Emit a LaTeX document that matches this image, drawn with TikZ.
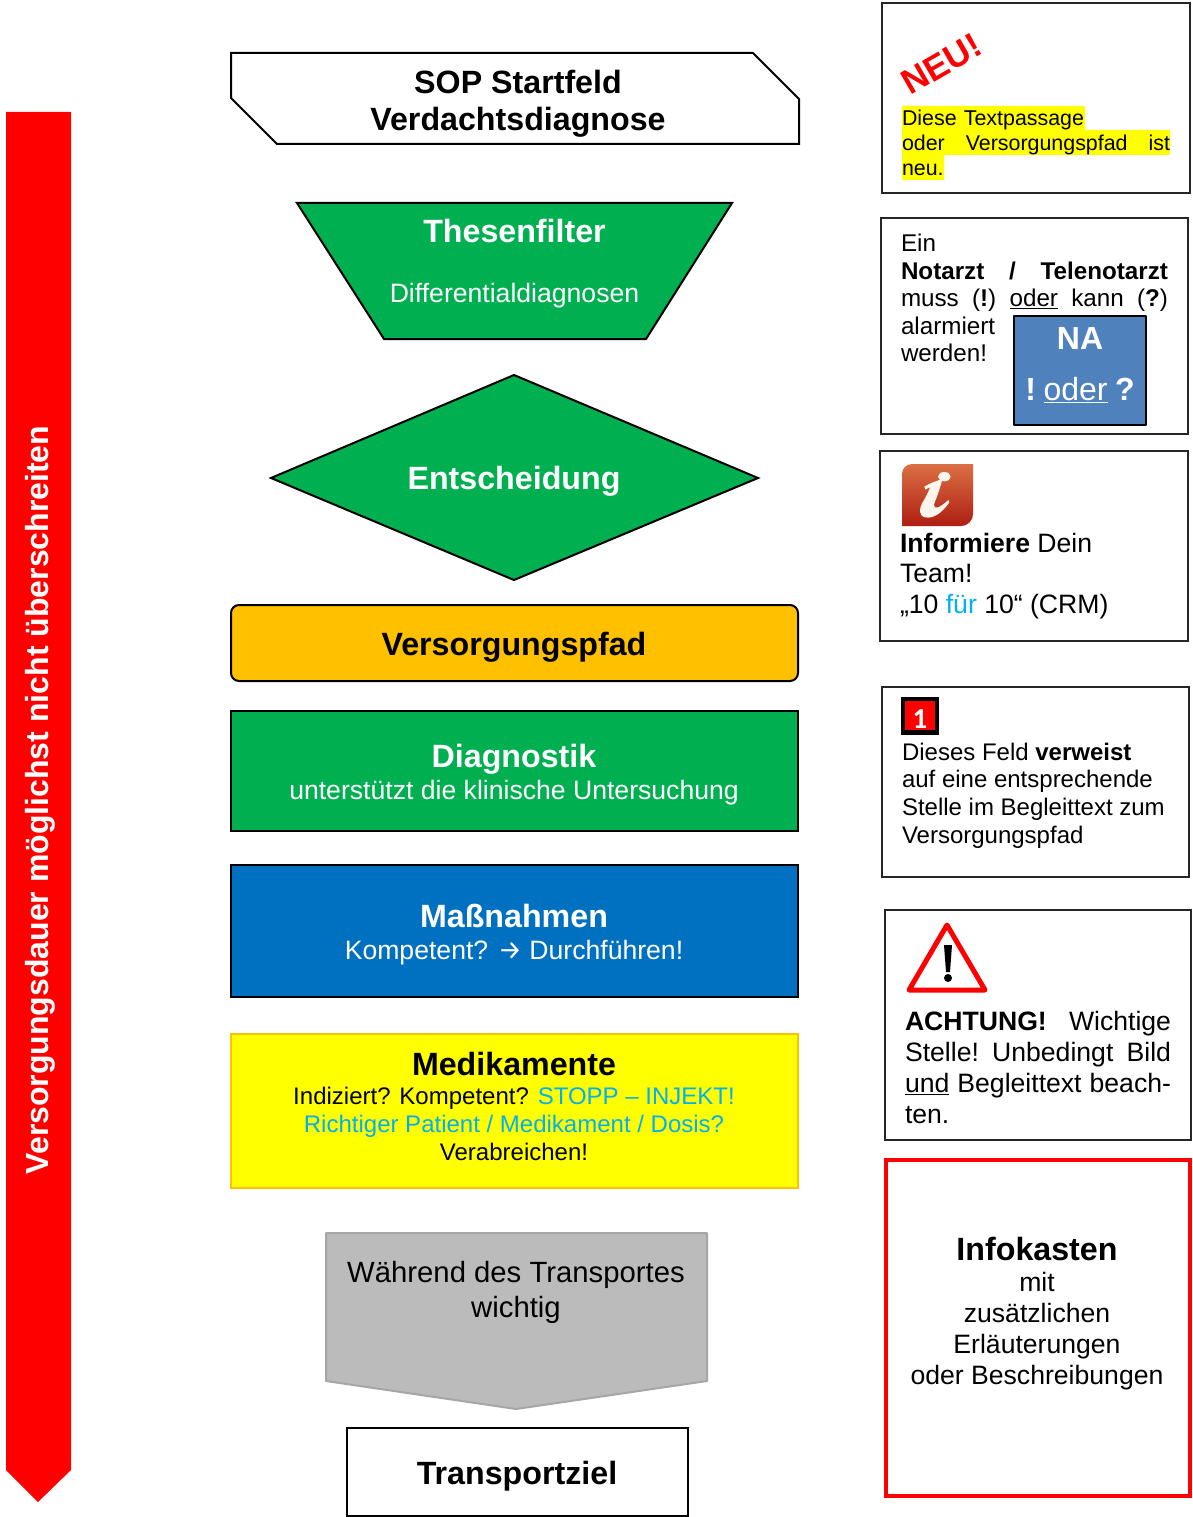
\documentclass[tikz,border=0pt]{standalone}
\usepackage{fontspec}
\setmainfont{Liberation Sans}
\newfontfamily\firaarrow{Fira Sans}
\newfontfamily\carlito{Carlito}
\definecolor{sgreen}{HTML}{00B050}
\definecolor{sblue}{HTML}{0070C0}
\definecolor{sorange}{HTML}{FFC000}
\definecolor{scyan}{HTML}{00B0F0}
\definecolor{sgray}{HTML}{BBBBBB}
\definecolor{sgrayline}{HTML}{A6A6A6}
\definecolor{nablue}{HTML}{4F81BD}
\definecolor{syellow}{HTML}{FFFF00}
\definecolor{sred}{HTML}{FF0000}
\definecolor{icontop}{HTML}{DB7044}
\definecolor{iconmid}{HTML}{C8452C}
\definecolor{iconbot}{HTML}{AE1E12}
\definecolor{iconi}{HTML}{FBF5EC}
\newcommand{\fsz}[2]{\fontsize{#1pt}{#2pt}\selectfont}
\newcommand{\bigb}{\fontsize{32.2pt}{32pt}\selectfont\bfseries}
\newcommand{\tp}{\rule{0pt}{40pt}}
\newcommand{\jline}[1]{\makebox[\linewidth][s]{#1}}
\tikzset{
  shapeline/.style={draw=black,line width=2pt,line join=miter},
  sidebox/.style={draw=black!85,line width=2pt,fill=white},
  ctext/.style={inner sep=0pt,outer sep=0pt,anchor=north,align=center},
  ltext/.style={inner sep=0pt,outer sep=0pt,anchor=north west,align=left},
}
\lineskiplimit=-100pt
\begin{document}
\begin{tikzpicture}[x=1pt,y=-1pt]
\useasboundingbox (0,0) rectangle (1192,1517);
\fill[white] (0,0) rectangle (1192,1517);

% red arrow
\fill[sred] (6,112) -- (71,112) -- (71,1470) -- (38,1502) -- (6,1470) -- cycle;
\node[rotate=90,anchor=base,inner sep=0pt,text=white,font=\fontsize{32pt}{32pt}\selectfont\bfseries] (dauer) at (48,800) {Versorgungsdauer möglichst nicht überschreiten};

% start
\draw[shapeline,fill=white] (231,53) -- (753,53) -- (799,99) -- (799,144) -- (277,144) -- (231,98) -- cycle;
\node[ctext,font=\fsz{32.2}{37.5}\bfseries] (sop) at (518,53.5) {\tp SOP Startfeld\\Verdachtsdiagnose};

% thesenfilter
\draw[shapeline,fill=sgreen] (297,203) -- (732,203) -- (646,339) -- (384,339) -- cycle;
\node[ctext,text=white,font=\fsz{26.6}{60}] (these) at (514.5,202) {\tp{\bigb Thesenfilter}\\Differentialdiagnosen};

% entscheidung
\draw[shapeline,fill=sgreen] (271,478) -- (514,375) -- (758,478) -- (514,580) -- cycle;
\node[ctext,text=white,font=\bigb] (ents) at (514,449) {\tp Entscheidung};

% versorgungspfad
\draw[shapeline,fill=sorange,rounded corners=8pt] (231,605) rectangle (798,681);
\node[ctext,font=\bigb] (pfad) at (514,615) {\tp Versorgungspfad};

% diagnostik
\draw[shapeline,fill=sgreen] (231,711) rectangle (798,831);
\node[ctext,text=white,font=\fsz{26.6}{32}] (diag) at (514,727) {\tp{\bigb Diagnostik}\\unterstützt die klinische Untersuchung};

% massnahmen
\draw[shapeline,fill=sblue] (231,865) rectangle (798,997);
\node[ctext,text=white,font=\fsz{26.6}{32}] (mass) at (514,887) {\tp{\bigb Maßnahmen}\\Kompetent? {\firaarrow→} Durchführen!};

% medikamente
\draw[draw=sorange,line width=2pt,fill=syellow] (231,1034) rectangle (798,1188);
\node[ctext,font=\fsz{24}{28}] (medi) at (514,1035) {\tp{\bigb Medikamente}\\[1pt]Indiziert? Kompetent? \textcolor{scyan}{STOPP – INJEKT!}\\\textcolor{scyan}{Richtiger Patient / Medikament / Dosis?}\\Verabreichen!};

% transport
\draw[draw=sgrayline,line width=2pt,fill=sgray,line join=round] (326,1233) -- (707,1233) -- (707,1381) -- (516,1409) -- (326,1381) -- cycle;
\node[ctext,font=\fsz{29.3}{35}] (waehrend) at (516,1242) {\tp Während des Transportes\\wichtig};

% transportziel
\draw[shapeline,fill=white] (347,1428) rectangle (688,1516);
\node[ctext,font=\bigb] (ziel) at (517,1444) {\tp Transportziel};

% NEU box
\draw[sidebox] (882,3) rectangle (1190,193);
\fill[syellow] (902,106) rectangle (1085,130) (902,130) rectangle (1170,155) (902,155) rectangle (944,180);
\node[rotate=30,anchor=base west,inner sep=0pt,text=sred,font=\fontsize{35pt}{35pt}\selectfont\bfseries] (neu) at (910,96) {NEU!};
\node[ltext,text width=268pt,font=\fsz{21.4}{24.6}] (neutext) at (902,86) {\tp Diese Textpassage\\\jline{oder\hfill Versorgungspfad\hfill ist}\\neu.};

% Notarzt box
\draw[sidebox] (881,218) rectangle (1188,434);
\node[ltext,text width=267pt,font=\fsz{24.2}{27.6}] (notarzt) at (901,211.5) {\tp Ein\\\jline{\textbf{Notarzt}\hfill\textbf{/}\hfill\textbf{Telenotarzt}}\\\jline{muss\hfill(\textbf{!})\hfill\underline{oder}\hfill kann\hfill(\textbf{?})}\\alarmiert\\werden!};
\draw[draw=black,line width=2.5pt,fill=nablue,line join=round] (1014,316) rectangle (1146,425);
\node[ctext,text=white,font=\fsz{32}{51}] (na) at (1080,309) {\tp\textbf{NA}\\\textbf{!}\hspace{7.5pt}\underline{oder}\hspace{7.5pt}\textbf{?}};

% Info box
\draw[sidebox] (880,451) rectangle (1188,641);
\shade[top color=icontop,middle color=iconmid,bottom color=iconbot]
  (902,526) -- (902,474) arc[start angle=180,end angle=90,radius=10pt] -- (973,464) -- (973,514) arc[start angle=0,end angle=-90,radius=12pt] -- cycle;
\begin{scope}[shift={(880,445)},x=0.3333pt,y=-0.3333pt]
\fill[iconi] (133,125) .. controls (150,115) and (165,108) .. (187,103) .. controls (180,130) and (172,152) .. (162,178) .. controls (160,195) and (178,190) .. (205,165) -- (208,172) .. controls (185,205) and (160,222) .. (135,217) .. controls (115,212) and (118,190) .. (126,175) .. controls (138,155) and (146,140) .. (150,127) .. controls (146,128) and (141,131) .. (136,134) -- cycle;
\fill[iconi] (193,95) ellipse[x radius=19,y radius=14];
\end{scope}
\node[ltext,font=\fsz{26.6}{30.6}] (info) at (900,512) {\tp\textbf{Informiere} Dein\\Team!\\„10 \textcolor{scyan}{für} 10“ (CRM)};

% Feld box
\draw[sidebox] (882,687) rectangle (1189,877);
\fill[black] (901,697) rectangle (939,735);
\fill[sred] (905,701) rectangle (935,730);
\node[anchor=base,inner sep=0pt,text=white,font=\fontsize{29pt}{29pt}\carlito\bfseries] (one) at (920,728) {1};
\node[ltext,font=\fsz{24}{27.7}] (feld) at (902,720) {\tp Dieses Feld \textbf{verweist}\\auf eine entsprechende\\Stelle im Begleittext zum\\Versorgungspfad};

% Achtung box
\draw[sidebox] (885,910) rectangle (1191,1140);
\draw[sred,line width=5pt,line join=round] (947,925) -- (985,990) -- (909,990) -- cycle;
\fill[black] (944,945) -- (952,945) -- (950,972) -- (946,972) -- cycle;
\fill[black] (948,978) circle[radius=4pt];
\node[ltext,text width=266pt,font=\fsz{26.6}{31}] (acht) at (905,990.5) {\tp\jline{\textbf{ACHTUNG!}\hfill Wichtige}\\\jline{Stelle!\hfill Unbedingt\hfill Bild}\\\jline{\underline{und}\hfill Begleittext\hfill beach-}\\ten.};

% Infokasten
\draw[draw=sred,line width=4.5pt,fill=white] (886,1160) rectangle (1190,1496);
\node[ctext,font=\fsz{26.6}{31}] (infok) at (1037,1220) {\tp{\bigb Infokasten}\\mit\\zusätzlichen\\Erläuterungen\\oder Beschreibungen};
\end{tikzpicture}
\end{document}
